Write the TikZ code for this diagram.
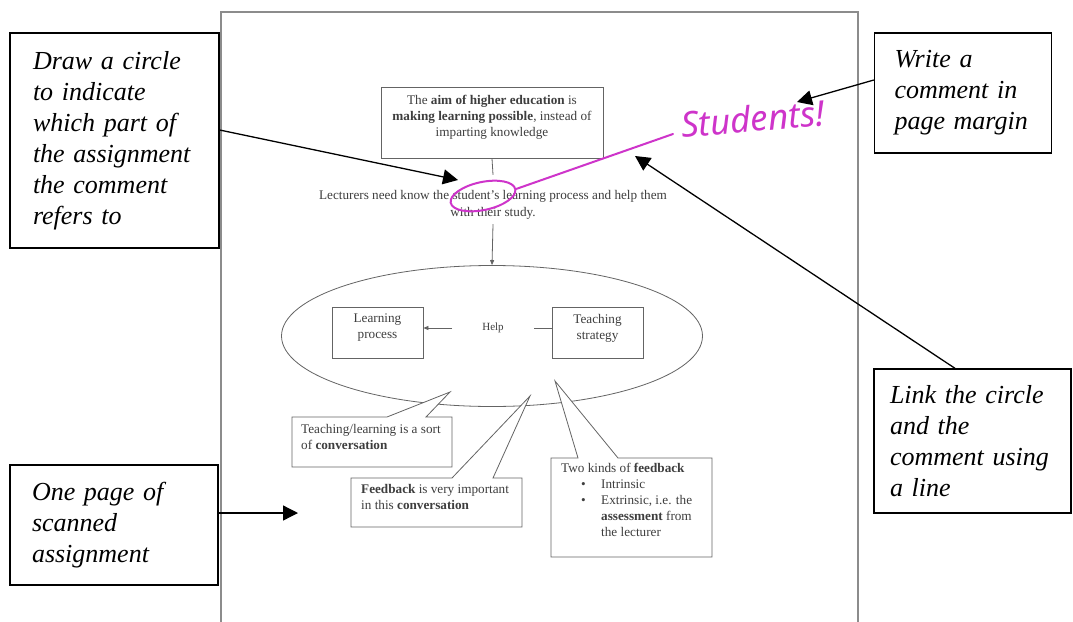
\documentclass[tikz,border=0pt]{standalone}
\usepackage{fontspec}
\setmainfont{Liberation Serif}
\newfontfamily\handfont{Noto Sans}
\usetikzlibrary{arrows.meta,shapes.geometric}
\definecolor{scanink}{RGB}{62,62,62}
\definecolor{scanline}{RGB}{100,100,100}
\definecolor{pageedge}{RGB}{140,140,140}
\definecolor{penpink}{RGB}{206,52,202}
\begin{document}
\begin{tikzpicture}[x=1pt,y=-1pt,
  note/.style={draw=black, line width=1.3pt, align=left, inner ysep=0pt,
    font=\fontsize{26}{31}\selectfont\itshape},
  pointer/.style={line width=1.3pt, -{Triangle[length=15pt,width=15pt]}},
  scantext/.style={text=scanink, align=center, inner sep=0pt,
    font=\fontsize{13.2}{16}\selectfont},
  scanbox/.style={draw=scanline, line width=0.8pt, inner sep=0pt},
  callout/.style={draw=scanline, line width=0.8pt, fill=white, line join=miter},
  thin arrow/.style={draw=scanline, line width=0.8pt, -{Triangle[length=5pt,width=4pt]}},
  ink/.style={draw=penpink, line width=2pt, line cap=round}
]
\useasboundingbox (0,0) rectangle (1073,621);
\fill[white] (0,0) rectangle (1073,621);

% edge of the scanned page
\draw[pageedge, line width=1.5pt] (221,625) -- (221,12) -- (858,12) -- (858,625);

% ---------------- scanned assignment ----------------
\node[scanbox, minimum width=222pt, minimum height=71pt] (aim) at (492,122.5) {};
\node[scantext] (aimtext) at (492,117) {The \textbf{aim of higher education} is\\
  \textbf{making learning possible}, instead of\\ imparting knowledge};

\node[scantext, font=\fontsize{13.2}{17}\selectfont] (lect) at (493,204.5)
  {Lecturers need know the student's learning process and help them\\ with their study.};

\node[draw=scanline, line width=0.8pt, ellipse, minimum width=421pt,
  minimum height=141pt, inner sep=0pt] (ring) at (492,336) {};

\draw[scanline, line width=0.8pt] (aim.south) -- ([yshift=15pt]lect.north);
\draw[thin arrow] ([yshift=-5pt]lect.south) -- (ring.north);

\node[scanbox, minimum width=91pt, minimum height=51pt] (learn) at (377.5,332.5) {};
\node[scantext] (learntext) at (377.5,328) {Learning\\process};
\node[scanbox, minimum width=91pt, minimum height=51pt] (teach) at (597.5,332.5) {};
\node[scantext] (teachtext) at (597.5,328) {Teaching\\strategy};

\node[scantext, font=\fontsize{11}{13}\selectfont, inner xsep=30pt] (help) at (493,328) {Help};
\draw[thin arrow] (help.west) -- (help.west -| learn.east);
\draw[scanline, line width=0.8pt] (teach.west |- help.east) -- (help.east);

% callouts
\draw[callout] (292,417) -- (387,417) -- (450,392) -- (426,417) -- (452,417)
  -- (452,467) -- (292,467) -- cycle;
\node[scantext, align=left, anchor=north west] (conv) at (301,424)
  {Teaching/learning is a sort\\of \textbf{conversation}};

\draw[callout] (351,478) -- (452,478) -- (530,396) -- (493,478) -- (522,478)
  -- (522,527) -- (351,527) -- cycle;
\node[scantext, align=left, anchor=north west] (fb) at (361,484)
  {\textbf{Feedback} is very important\\in this \textbf{conversation}};

\draw[callout] (551,458) -- (578,458) -- (555,381) -- (618,458) -- (712,458)
  -- (712,557) -- (551,557) -- cycle;
\node[scantext, align=left, anchor=north west] (kinds) at (561,463)
  {Two kinds of \textbf{feedback}\\
   \hspace*{20pt}\makebox[20pt][l]{\textbullet}Intrinsic\\
   \hspace*{20pt}\makebox[20pt][l]{\textbullet}Extrinsic, i.e. the\\
   \hspace*{40pt}\textbf{assessment} from\\
   \hspace*{40pt}the lecturer};

% ---------------- handwritten comment ----------------
\node[ink, ellipse, rotate=12, minimum width=66pt, minimum height=28pt,
  inner sep=0pt] (loop) at (483,196) {};
\node[text=penpink, font=\handfont\itshape\fontsize{35}{36}\selectfont,
  rotate=5, anchor=west, inner sep=0pt] (stud) at (681,125) {Students!};
\coordinate (inkend) at (673,134);
\draw[ink] (loop.east) -- (inkend);

% ---------------- explanatory notes ----------------
\node[note, text width=163pt, inner xsep=23pt, minimum height=215pt] (n1) at (114.5,140.5)
  {Draw a circle\\to indicate\\which part of\\the assignment\\the comment\\refers to};
\node[note, text width=137pt, inner xsep=20pt, minimum height=120pt] (n2) at (963,93)
  {Write a\\comment in\\page margin};
\node[note, text width=165pt, inner xsep=16pt, minimum height=144pt] (n3) at (972.5,441)
  {Link the circle\\and the\\comment using\\a line};
\node[note, text width=164pt, inner xsep=22pt, minimum height=120pt] (n4) at (114,525)
  {One page of\\scanned\\assignment};

\coordinate (tipA) at (458,180);
\coordinate (tipB) at (797,102);
\coordinate (tipC) at (635,156);
\coordinate (tipD) at (298,513);
\draw[pointer] ([yshift=10.5pt]n1.east) -- (tipA);
\draw[pointer] ([yshift=13pt]n2.west) -- (tipB);
\draw[pointer] ([xshift=-17.5pt]n3.north) -- (tipC);
\draw[pointer] ([yshift=12pt]n4.east) -- (tipD);
\end{tikzpicture}
\end{document}
